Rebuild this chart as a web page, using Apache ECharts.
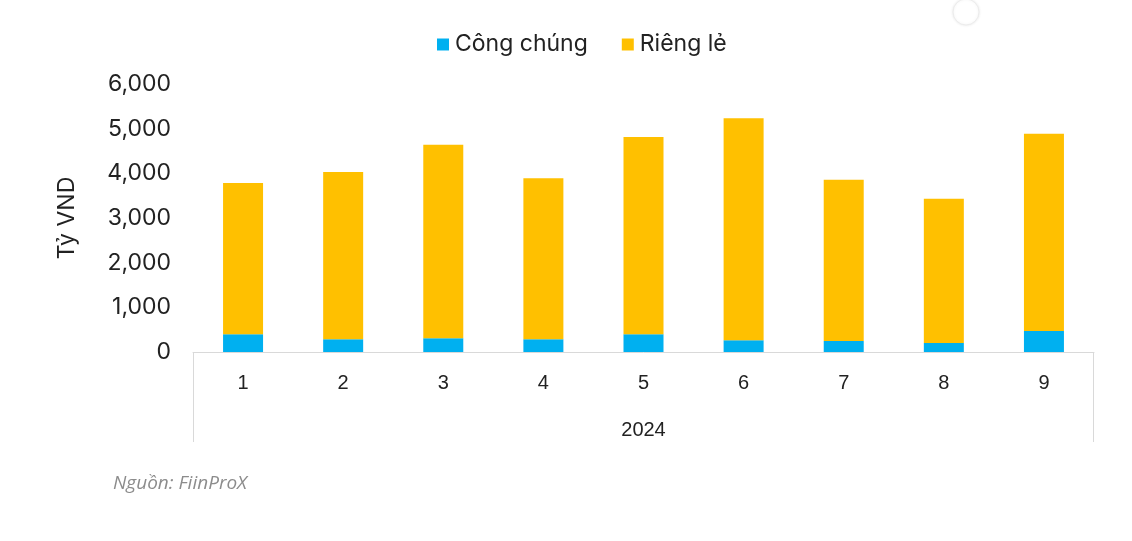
<!DOCTYPE html>
<html>
<head>
<meta charset="utf-8">
<script src="https://cdn.jsdelivr.net/npm/echarts@6/dist/echarts.min.js"></script>
<style>
html,body{margin:0;padding:0;background:#fff;}
#c{width:1132px;height:541px;}
</style>
</head>
<body>
<div id="c"></div>
<script>
const categories = ['1','2','3','4','5','6','7','8','9'];
const congChung = [400, 285, 307, 285, 397, 262, 247, 202, 471];
const riengLe = [3383, 3744, 4334, 3603, 4417, 4971, 3610, 3228, 4417];
const yTicks = [0, 1000, 2000, 3000, 4000, 5000, 6000];
const yearLabel = '2024';
const yName = 'Tỷ VND';
const sourceText = 'Nguồn: FiinProX';

const chart = echarts.init(document.getElementById('c'));
const gridLeft = 193, gridRight = 38, gridTop = 84, gridBottom = 189;
const axisY = 541 - gridBottom;
const option = {
  animation: false,
  backgroundColor: '#fff',
  legend: {
    top: 28,
    left: 432,
    itemWidth: 12,
    itemHeight: 12,
    itemGap: 34,
    icon: 'rect',
    textStyle: {fontFamily: 'Inter', fontSize: 23, color: '#222', padding: [0,0,0,1]},
    data: ['Công chúng', 'Riêng lẻ']
  },
  grid: {left: gridLeft, right: gridRight, top: gridTop, bottom: gridBottom},
  xAxis: {
    type: 'category',
    data: categories,
    name: yearLabel,
    nameLocation: 'middle',
    nameGap: 68,
    nameTextStyle: {fontFamily: 'Liberation Sans', fontSize: 20, color: '#222'},
    axisLine: {show: true, lineStyle: {color: '#d9d9d9', width: 1}},
    axisTick: {show: false},
    axisLabel: {fontFamily: 'Liberation Sans', fontSize: 20, color: '#222', margin: 21}
  },
  yAxis: {
    type: 'value',
    min: yTicks[0],
    max: yTicks[yTicks.length - 1],
    interval: 1000,
    name: yName,
    nameLocation: 'middle',
    nameGap: 114,
    nameRotate: 90,
    nameTextStyle: {fontFamily: 'Inter', fontSize: 23, color: '#222'},
    axisLine: {show: false},
    axisTick: {show: false},
    splitLine: {show: false},
    axisLabel: {
      fontFamily: 'Inter', fontSize: 23, color: '#222', margin: 22,
      formatter: v => v.toLocaleString('en-US')
    }
  },
  series: [
    {name: 'Công chúng', type: 'bar', stack: 's', barWidth: 40, data: congChung,
     itemStyle: {color: '#00B0F0'}},
    {name: 'Riêng lẻ', type: 'bar', stack: 's', barWidth: 40, data: riengLe,
     itemStyle: {color: '#FFC000'}}
  ],
  graphic: [
    {type: 'line', shape: {x1: gridLeft + 0.5, y1: axisY, x2: gridLeft + 0.5, y2: 442},
     style: {stroke: '#d9d9d9', lineWidth: 1}},
    {type: 'line', shape: {x1: 1132 - gridRight - 0.5, y1: axisY, x2: 1132 - gridRight - 0.5, y2: 442},
     style: {stroke: '#d9d9d9', lineWidth: 1}},
    {type: 'text', left: 113, top: 474,
     style: {text: sourceText, font: 'italic 19px "Open Sans"', fill: '#8c8c8c'}},
    {type: 'circle', shape: {cx: 966, cy: 12, r: 13},
     style: {fill: '#fff', stroke: '#ececec', lineWidth: 1, shadowBlur: 3, shadowColor: 'rgba(0,0,0,0.08)'}}
  ]
};
chart.setOption(option);
</script>
</body>
</html>
